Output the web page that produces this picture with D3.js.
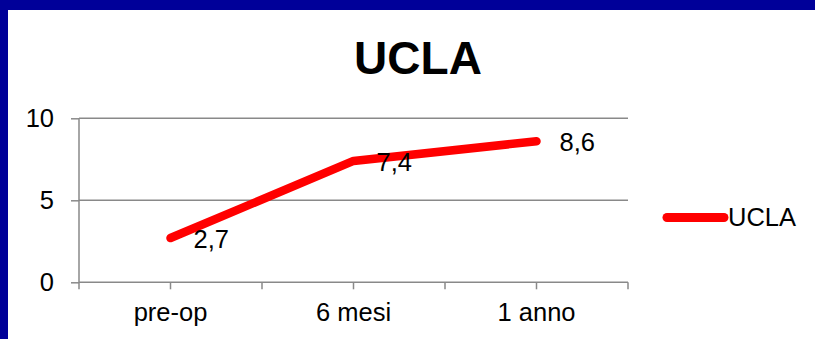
<!DOCTYPE html>
<html>
<head>
<meta charset="utf-8">
<script src="https://cdn.jsdelivr.net/npm/d3@7"></script>
<style>
  html, body { margin: 0; padding: 0; background: #fff; }
  svg { display: block; font-family: "Liberation Sans", Arial, sans-serif; }
</style>
</head>
<body>
<svg id="chart" width="815" height="339"></svg>
<script>
// UCLA score over follow-up
const categories = ["pre-op", "6 mesi", "1 anno"];
const uclaValues = [2.7, 7.4, 8.6];
const yTicks = [0, 5, 10];
const seriesName = "UCLA";
const chartTitle = "UCLA";

const W = 815, H = 339;
const svg = d3.select("#chart");

// slide frame: dark blue band along top and left
svg.append("rect").attr("x", 0).attr("y", 0).attr("width", W).attr("height", H).attr("fill", "#000099");
svg.append("rect").attr("x", 8).attr("y", 10).attr("width", W - 8).attr("height", H - 10).attr("fill", "#ffffff");

const plot = { left: 79, right: 628, top: 118.3, bottom: 282.3 };
const gridColor = "#898989";

const x = d3.scaleBand().domain(categories).range([plot.left, plot.right]).padding(0);
const y = d3.scaleLinear().domain([0, 10]).range([plot.bottom, plot.top]);

// title
svg.append("text")
  .attr("x", 418).attr("y", 74)
  .attr("text-anchor", "middle")
  .attr("font-size", 46).attr("font-weight", "bold")
  .attr("fill", "#000")
  .text(chartTitle);

// horizontal gridlines
svg.append("g").selectAll("line")
  .data(yTicks.filter(d => d > 0))
  .join("line")
  .attr("x1", plot.left).attr("x2", plot.right)
  .attr("y1", d => y(d)).attr("y2", d => y(d))
  .attr("stroke", gridColor).attr("stroke-width", 1.5);

// y axis
const yAxis = svg.append("g")
  .attr("transform", `translate(${plot.left},0)`)
  .call(d3.axisLeft(y).tickValues(yTicks).tickSize(8).tickPadding(17).tickFormat(d3.format("d")));
yAxis.select(".domain").remove();
yAxis.selectAll(".tick line").attr("stroke", gridColor).attr("stroke-width", 1.5);
yAxis.selectAll(".tick text").attr("font-size", 25.5).attr("fill", "#000")
  .attr("font-family", "'Liberation Sans', Arial, sans-serif");
yAxis.append("line")
  .attr("x1", 0).attr("x2", 0).attr("y1", plot.top).attr("y2", plot.bottom + 7)
  .attr("stroke", gridColor).attr("stroke-width", 1.5);

// x axis: ticks at category centres and boundaries
const xAxis = svg.append("g")
  .attr("transform", `translate(0,${plot.bottom})`)
  .call(d3.axisBottom(x).tickSize(7).tickPadding(12));
xAxis.select(".domain").remove();
xAxis.selectAll(".tick line").attr("stroke", gridColor).attr("stroke-width", 1.5);
xAxis.selectAll(".tick text").attr("font-size", 25.5).attr("fill", "#000")
  .attr("font-family", "'Liberation Sans', Arial, sans-serif")
  .attr("dy", "0.77em");
xAxis.append("line")
  .attr("x1", plot.left).attr("x2", plot.right).attr("y1", 0).attr("y2", 0)
  .attr("stroke", gridColor).attr("stroke-width", 1.5);
xAxis.selectAll(".bound")
  .data(categories.map(c => x(c) + x.bandwidth()).concat([]))
  .join("line")
  .attr("class", "bound")
  .attr("x1", d => d).attr("x2", d => d)
  .attr("y1", 0).attr("y2", 7)
  .attr("stroke", gridColor).attr("stroke-width", 1.5);

// series line
const pts = categories.map((c, i) => ({ c, v: uclaValues[i] }));
const line = d3.line().x(d => x(d.c) + x.bandwidth() / 2).y(d => y(d.v));
svg.append("path")
  .datum(pts)
  .attr("d", line)
  .attr("fill", "none")
  .attr("stroke", "#ff0000")
  .attr("stroke-width", 8.5)
  .attr("stroke-linecap", "round")
  .attr("stroke-linejoin", "round");

// data labels
const fmt = v => String(v).replace(".", ",");
svg.append("g").selectAll("text")
  .data(pts)
  .join("text")
  .attr("x", d => x(d.c) + x.bandwidth() / 2 + 23)
  .attr("y", d => y(d.v) + 10)
  .attr("font-size", 25.5)
  .attr("fill", "#000")
  .text(d => fmt(d.v));

// legend
const legend = svg.append("g");
legend.append("line")
  .attr("x1", 667).attr("x2", 724).attr("y1", 217.5).attr("y2", 217.5)
  .attr("stroke", "#ff0000").attr("stroke-width", 9).attr("stroke-linecap", "round");
legend.append("text")
  .attr("x", 728).attr("y", 226)
  .attr("font-size", 25.5).attr("fill", "#000")
  .text(seriesName);
</script>
</body>
</html>
